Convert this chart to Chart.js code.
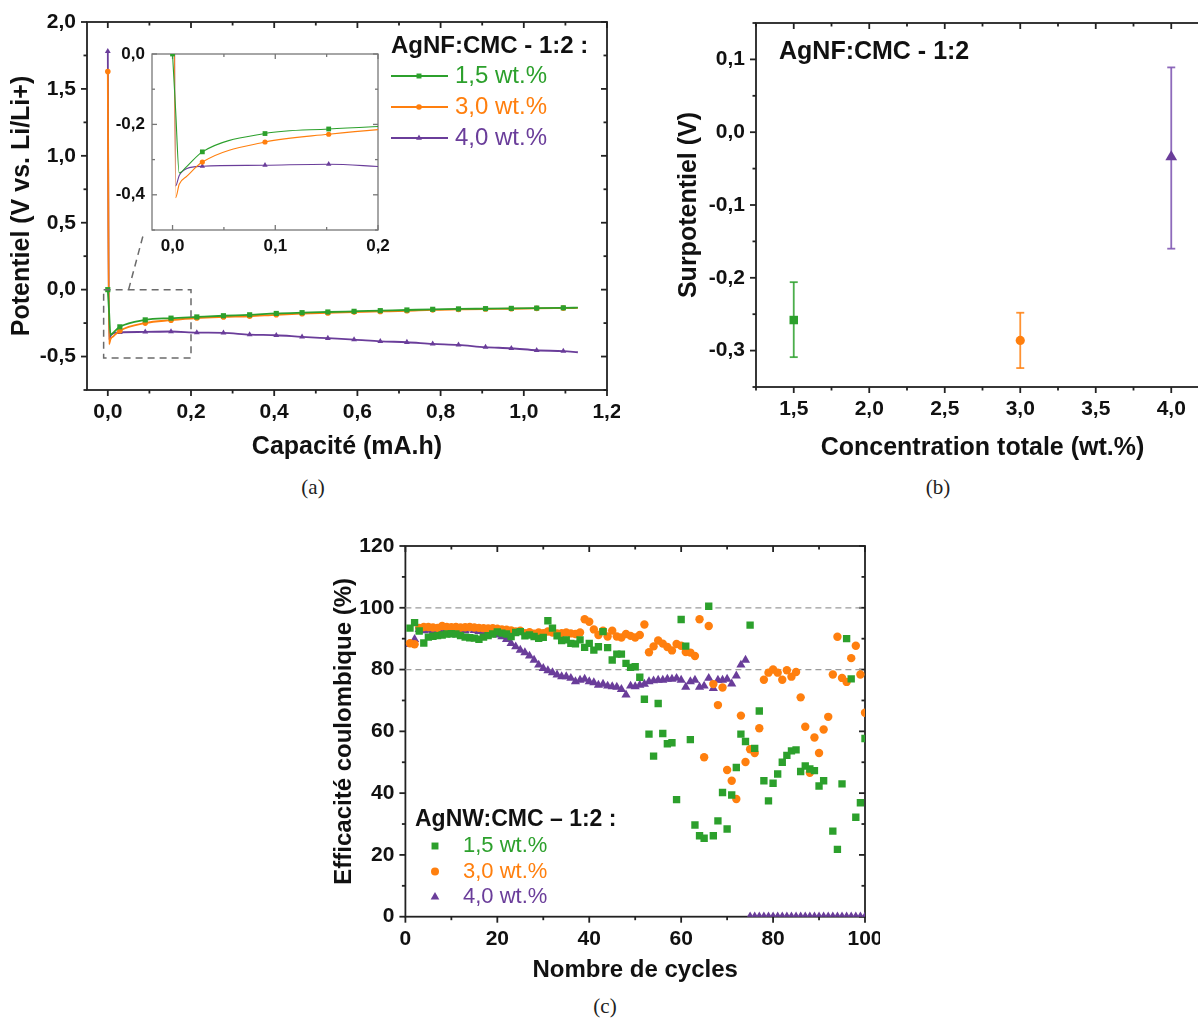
<!DOCTYPE html>
<html>
<head>
<meta charset="utf-8">
<title>AgNF:CMC - potentiel, surpotentiel, efficacité coulombique</title>
<script src="https://cdn.jsdelivr.net/npm/chart.js"></script>
<style>
  body { margin: 0; width: 1198px; height: 1019px; overflow: hidden; background: #fff; position: relative; }
  canvas { position: absolute; }
  .cap { position: absolute; font: 21px "Liberation Serif", "DejaVu Serif", serif; color: #222; transform: translate(-50%, -50%); }
</style>
</head>
<body>
<canvas id="chartA" width="620" height="470" style="left:0;top:0"></canvas>
<canvas id="chartInset" width="300" height="220" style="left:100px;top:40px"></canvas>
<canvas id="chartB" width="560" height="470" style="left:670px;top:0"></canvas>
<canvas id="chartC" width="560" height="460" style="left:320px;top:530px"></canvas>
<div class="cap" style="left:313px;top:487px">(a)</div>
<div class="cap" style="left:938px;top:487px">(b)</div>
<div class="cap" style="left:605px;top:1006px">(c)</div>

<script>
// ---------- data ----------
// (a) potential vs capacity
const capX  = [0, 0.003, 0.0065, 0.014, 0.029, 0.09, 0.152, 0.214, 0.278, 0.341, 0.405, 0.467, 0.529, 0.592, 0.655, 0.719, 0.781, 0.843, 0.908, 0.970, 1.031, 1.095, 1.13];
const pot15 = [0.0, -0.16, -0.338, -0.319, -0.278, -0.226, -0.213, -0.204, -0.195, -0.188, -0.178, -0.172, -0.167, -0.162, -0.157, -0.152, -0.147, -0.144, -0.142, -0.140, -0.138, -0.136, -0.135];
const pot30 = [1.63, -0.408, -0.37, -0.347, -0.307, -0.25, -0.228, -0.212, -0.204, -0.199, -0.188, -0.180, -0.174, -0.168, -0.163, -0.158, -0.151, -0.148, -0.145, -0.143, -0.140, -0.138, -0.137];
const pot40 = [1.78, -0.375, -0.345, -0.325, -0.319, -0.316, -0.313, -0.321, -0.323, -0.336, -0.341, -0.353, -0.363, -0.373, -0.386, -0.393, -0.405, -0.413, -0.430, -0.438, -0.453, -0.460, -0.468];

// (b) overpotential vs total concentration
const concX     = [1.5, 3.0, 4.0];
const overpot   = [-0.258, -0.286, -0.034];
const overErrLo = [-0.309, -0.324, -0.160];
const overErrHi = [-0.206, -0.248, 0.089];

// (c) coulombic efficiency vs cycle
const cycles = [1,2,3,4,5,6,7,8,9,10,11,12,13,14,15,16,17,18,19,20,21,22,23,24,25,26,27,28,29,30,31,32,33,34,35,36,37,38,39,40,41,42,43,44,45,46,47,48,49,50,
  51,52,53,54,55,56,57,58,59,60,61,62,63,64,65,66,67,68,69,70,71,72,73,74,75,76,77,78,79,80,81,82,83,84,85,86,87,88,89,90,91,92,93,94,95,96,97,98,99,100];
const ce15 = [93.4,95.2,92.5,88.6,90.5,90.8,91,91.2,91.5,91.6,91.5,91,90.5,90.3,90.2,89.8,90.5,91,91.5,92.2,91.8,91.5,90.7,92,92.3,90.9,91.2,90.7,90.1,90.4,
  95.8,93.4,90.9,89.4,89.6,88.5,88.3,89.6,87.2,88.5,86.3,87.4,92.3,87.1,83.1,85,85,82,80.7,80.9,
  77.5,70.4,59.1,52,69,59.3,56,56.3,37.9,96.2,87.6,57.3,29.7,26.2,25.4,100.5,26.2,31,40.2,28.4,
  39.4,48.3,59.1,56.7,94.4,54.5,66.6,44,37.5,43.2,46.2,50,52.2,53.7,54,47,48.8,47.8,47.3,42.3,
  44,null,27.7,21.8,43,90,77,32.2,36.9,57.7];
const ce30 = [88.5,88.2,93.5,93.8,93.8,93.6,93.5,94.1,93.8,93.7,93.8,93.6,93.7,93.8,93.6,93.5,93.4,93.3,93.4,93.2,93,92.9,92.7,92.3,92.6,91.8,92.1,91.6,92,91.8,
  92.3,92,91.7,91.8,92,91.7,91.5,92,96.3,95.5,93,91.2,92.6,90.7,92.6,90.7,90.4,91.5,90.9,90.4,
  91.2,94.6,85.6,87.5,89.4,88.4,87.3,86.2,88.3,87.7,85.7,85.5,84.4,96.3,51.6,94.1,75.3,68.5,74.2,47.5,
  44,38.1,65.1,50.1,54.2,53,61,76.7,79,80,79,76.7,79.8,77.7,79.2,71,61.5,46.6,58,53,
  60.6,64.7,78.4,90.6,77.3,76,83.7,87.7,78.4,66];
const ce40 = [88.2,89.8,93,92.6,92.8,92.5,92.7,92.6,92.8,92.7,92.5,92.8,92.6,93.2,92.7,92.4,92.3,92,91.6,91.2,90.7,89.8,88.5,87.4,86.3,85.5,84.4,83.1,81.5,80.4,
  79.7,79,78.3,77.7,77.7,77.2,76.1,76.6,76.9,76.1,75.8,75,75.3,74.7,74.5,74.3,73.6,71.8,74.7,74.5,
  75,75.3,76.1,76.4,76.6,76.6,76.9,76.9,77.2,76.6,74.3,76.1,76.6,74.3,74.7,77.2,73.9,76.6,76.6,76.9,
  75.4,78,81.5,83.1,0,0,0,0,0,0,0,0,0,0,0,0,0,0,0,0,
  0,0,0,0,0,0,0,0,0,0];
const ceRefLines = [80, 100];

const seriesLabels = ['1,5 wt.%', '3,0 wt.%', '4,0 wt.%'];
const GREEN = '#2ca02c', ORANGE = '#ff7f0e', PURPLE = '#6a3d9a';

// ---------- helpers ----------
Chart.defaults.font.family = '"Liberation Sans", Arial, sans-serif';
Chart.defaults.color = '#111';

const comma = v => (Math.abs(v) < 1e-9 ? 0 : v).toFixed(1).replace('.', ',');

function makeAxis(o) {
  return {
    type: 'linear', min: o.min, max: o.max,
    grid: { display: false, drawTicks: false },
    border: { display: false },
    ticks: { stepSize: o.step, includeBounds: false, autoSkip: false, maxRotation: 0, padding: o.pad,
             color: '#111', font: { size: o.fontSize, weight: 'bold' }, callback: o.fmt },
    title: { display: !!o.title, text: o.title, color: '#111', font: { size: o.titleSize, weight: 'bold' }, padding: o.titlePad },
    // keep major ticks on round multiples of the step, not on the axis bounds
    afterBuildTicks(s) {
      const t = [];
      for (let i = Math.ceil(s.min / o.step - 1e-9); i * o.step <= s.max + 1e-9; i++) t.push({ value: +(i * o.step).toFixed(10) });
      s.ticks = t;
    },
    afterFit(s) {
      if (o.horizontal) s.height = o.size; else s.width = o.size;
      s.paddingLeft = s.paddingRight = s.paddingTop = s.paddingBottom = 0;
    }
  };
}

function drawMarker(ctx, style, x, y, r, color) {
  ctx.fillStyle = color;
  ctx.beginPath();
  if (style === 'rect') { const s = r * Math.SQRT1_2; ctx.rect(x - s, y - s, 2 * s, 2 * s); }
  else if (style === 'triangle') { ctx.moveTo(x, y - r); ctx.lineTo(x + r * 0.866, y + r / 2); ctx.lineTo(x - r * 0.866, y + r / 2); ctx.closePath(); }
  else ctx.arc(x, y, r, 0, Math.PI * 2);
  ctx.fill();
}

// box with origin-style ticks: left/bottom outward (or inward), top/right inward
const framePlugin = {
  id: 'frame',
  beforeDatasetsDraw(chart, args, o) {
    const { ctx, chartArea: a } = chart;
    const xs = chart.scales.x, ys = chart.scales.y;
    ctx.save();
    if (o.fill) { ctx.fillStyle = o.fill; ctx.fillRect(a.left, a.top, a.right - a.left, a.bottom - a.top); }
    ctx.strokeStyle = o.color; ctx.lineWidth = o.lineWidth;
    ctx.strokeRect(a.left, a.top, a.right - a.left, a.bottom - a.top);
    const seg = (x1, y1, x2, y2) => { ctx.beginPath(); ctx.moveTo(x1, y1); ctx.lineTo(x2, y2); ctx.stroke(); };
    const out = o.outward ? 1 : -1;
    const values = (s, step) => {
      const res = [], start = Math.ceil(s.min / step - 1e-9);
      for (let i = start; i * step <= s.max + 1e-9; i++) res.push(i * step);
      return res;
    };
    const isMajor = (s, v) => s.ticks.some(t => Math.abs(t.value - v) < 1e-6);
    for (const v of values(xs, o.xMinor)) {
      const p = xs.getPixelForValue(v), len = isMajor(xs, v) ? o.major : o.minor;
      seg(p, a.bottom, p, a.bottom + out * len);
      seg(p, a.top, p, a.top + len);
    }
    for (const v of values(ys, o.yMinor)) {
      const p = ys.getPixelForValue(v), len = isMajor(ys, v) ? o.major : o.minor;
      seg(a.left, p, a.left - out * len, p);
      seg(a.right, p, a.right - len, p);
    }
    // dashed reference levels
    if (o.refLines) {
      ctx.strokeStyle = '#9a9a9a'; ctx.lineWidth = 1.2; ctx.setLineDash([6, 4]);
      for (const v of o.refLines) { const p = ys.getPixelForValue(v); seg(a.left, p, a.right, p); }
      ctx.setLineDash([]);
    }
    // error bars
    if (o.err) {
      o.err.lo.forEach((lo, i) => {
        const px = xs.getPixelForValue(o.err.x[i]);
        const y1 = ys.getPixelForValue(lo), y2 = ys.getPixelForValue(o.err.hi[i]);
        ctx.strokeStyle = o.err.colors[i]; ctx.lineWidth = 1.8;
        seg(px, y1, px, y2); seg(px - 4, y1, px + 4, y1); seg(px - 4, y2, px + 4, y2);
      });
    }
    ctx.restore();
  }
};

// dashed zoom rectangle + connector, in data coordinates
const zoomBoxPlugin = {
  id: 'zoomBox',
  afterDatasetsDraw(chart, args, o) {
    if (!o.box) return;
    const { ctx } = chart, xs = chart.scales.x, ys = chart.scales.y;
    ctx.save();
    ctx.strokeStyle = '#6b6b6b'; ctx.lineWidth = 1.5; ctx.setLineDash([7, 5]);
    const [x0, x1, y0, y1] = o.box;
    const l = xs.getPixelForValue(x0), r = xs.getPixelForValue(x1);
    const t = ys.getPixelForValue(y1), b = ys.getPixelForValue(y0);
    ctx.strokeRect(l, t, r - l, b - t);
    const [lx0, ly0, lx1, ly1] = o.link;
    ctx.beginPath();
    ctx.moveTo(xs.getPixelForValue(lx0), ys.getPixelForValue(ly0));
    ctx.lineTo(xs.getPixelForValue(lx1), ys.getPixelForValue(ly1));
    ctx.stroke();
    ctx.restore();
  }
};

// title text + optional series key
const keyPlugin = {
  id: 'key',
  afterDraw(chart, args, o) {
    if (!o.title) return;
    const ctx = chart.ctx;
    ctx.save();
    ctx.textBaseline = 'middle'; ctx.textAlign = 'left';
    ctx.fillStyle = '#111'; ctx.font = o.titleFont;
    ctx.fillText(o.title, o.x, o.y);
    if (o.entries) {
      chart.data.datasets.forEach((ds, i) => {
        const yy = o.y + o.firstGap + i * o.rowH;
        if (o.lineLen) {
          ctx.strokeStyle = ds.borderColor; ctx.lineWidth = 1.8;
          ctx.beginPath(); ctx.moveTo(o.x, yy); ctx.lineTo(o.x + o.lineLen, yy); ctx.stroke();
        }
        drawMarker(ctx, ds.pointStyle, o.markX, yy, o.markR[i], ds.borderColor);
        ctx.fillStyle = ds.borderColor; ctx.font = o.font;
        ctx.fillText(ds.label, o.textX, yy);
      });
    }
    ctx.restore();
  }
};

const basePlugins = { legend: { display: false }, tooltip: { enabled: false } };

// ---------- (a) ----------
function curve(vals) { return capX.map((x, i) => ({ x, y: vals[i] })); }
const markAt = r => c => (c.dataIndex === 0 || (c.dataIndex >= 4 && c.dataIndex < capX.length - 1)) ? r : 0;

function potDatasets(width, r) {
  return [
    { label: seriesLabels[0], data: curve(pot15), borderColor: GREEN, backgroundColor: GREEN, pointStyle: 'rect', pointRadius: markAt(r * 1.3), borderWidth: width },
    { label: seriesLabels[1], data: curve(pot30), borderColor: ORANGE, backgroundColor: ORANGE, pointStyle: 'circle', pointRadius: markAt(r), borderWidth: width },
    { label: seriesLabels[2], data: curve(pot40), borderColor: PURPLE, backgroundColor: PURPLE, pointStyle: 'triangle', pointRadius: markAt(r * 1.2), borderWidth: width }
  ].map(d => Object.assign(d, { showLine: true, cubicInterpolationMode: 'monotone', pointBorderWidth: 0, pointHoverRadius: 0 }));
}

new Chart(document.getElementById('chartA'), {
  type: 'scatter',
  data: { datasets: potDatasets(1.8, 2.8) },
  options: {
    responsive: false, animation: false, events: [],
    layout: { padding: { top: 22, right: 13, left: 0, bottom: 0 } },
    scales: {
      x: makeAxis({ horizontal: true, min: -0.05, max: 1.2, step: 0.2, fmt: comma, pad: 10, fontSize: 21, title: 'Capacité (mA.h)', titleSize: 25, titlePad: 8, size: 80 }),
      y: makeAxis({ min: -0.75, max: 2.0, step: 0.5, fmt: comma, pad: 11, fontSize: 21, title: 'Potentiel (V vs. Li/Li+)', titleSize: 25, titlePad: 7, size: 87 })
    },
    plugins: Object.assign({}, basePlugins, {
      frame: { color: '#222', lineWidth: 1.8, outward: true, major: 6, minor: 3.5, xMinor: 0.1, yMinor: 0.25 },
      zoomBox: { box: [-0.01, 0.2, -0.51, 0.0], link: [0.05, 0.0, 0.087, 0.43] },
      key: { title: 'AgNF:CMC - 1:2 :', titleFont: 'bold 24px "Liberation Sans", Arial, sans-serif', font: '24px "Liberation Sans", Arial, sans-serif',
             x: 391, y: 46, entries: true, firstGap: 30, rowH: 31, lineLen: 57, markX: 419, markR: [3.5, 2.8, 3.4], textX: 455 }
    })
  },
  plugins: [framePlugin, zoomBoxPlugin, keyPlugin]
});

// ---------- (a) inset ----------
new Chart(document.getElementById('chartInset'), {
  type: 'scatter',
  data: { datasets: potDatasets(1.1, 2.6) },
  options: {
    responsive: false, animation: false, events: [],
    layout: { padding: { top: 14, right: 22, left: 0, bottom: 0 } },
    scales: {
      x: makeAxis({ horizontal: true, min: -0.02, max: 0.2, step: 0.1, fmt: comma, pad: 6.5, fontSize: 17, size: 30 }),
      y: makeAxis({ min: -0.5, max: 0.0, step: 0.2, fmt: comma, pad: 7, fontSize: 17, size: 52 })
    },
    plugins: Object.assign({}, basePlugins, {
      frame: { fill: '#fff', color: '#777', lineWidth: 1.3, outward: false, major: 5, minor: 3, xMinor: 0.05, yMinor: 0.1 }
    })
  },
  plugins: [framePlugin]
});

// ---------- (b) ----------
const pointStylesB = ['rect', 'circle', 'triangle'];
const colorsB = [GREEN, ORANGE, PURPLE];
const radiusB = [6, 4.6, 6.8];
new Chart(document.getElementById('chartB'), {
  type: 'scatter',
  data: {
    datasets: concX.map((c, i) => ({
      label: seriesLabels[i], data: [{ x: c, y: overpot[i] }],
      pointStyle: pointStylesB[i], pointRadius: radiusB[i], pointBorderWidth: 0,
      backgroundColor: colorsB[i], borderColor: colorsB[i]
    }))
  },
  options: {
    responsive: false, animation: false, events: [],
    layout: { padding: { top: 23, right: 21, left: 0, bottom: 0 } },
    scales: {
      x: makeAxis({ horizontal: true, min: 1.25, max: 4.25, step: 0.5, fmt: comma, pad: 10, fontSize: 21, title: 'Concentration totale (wt.%)', titleSize: 25, titlePad: 7, size: 83 }),
      y: makeAxis({ min: -0.35, max: 0.15, step: 0.1, fmt: comma, pad: 11, fontSize: 21, title: 'Surpotentiel (V)', titleSize: 25, titlePad: 4.5, size: 86 })
    },
    plugins: Object.assign({}, basePlugins, {
      frame: { color: '#222', lineWidth: 1.8, outward: true, major: 6, minor: 3.5, xMinor: 0.25, yMinor: 0.05,
               err: { x: concX, lo: overErrLo, hi: overErrHi, colors: ['rgba(44,160,44,0.85)', 'rgba(255,127,14,0.85)', 'rgba(130,90,180,0.9)'] } },
      key: { title: 'AgNF:CMC - 1:2', titleFont: 'bold 25px "Liberation Sans", Arial, sans-serif', x: 109, y: 52 }
    })
  },
  plugins: [framePlugin, keyPlugin]
});

// ---------- (c) ----------
function cePoints(vals) { return cycles.map((c, i) => ({ x: c, y: vals[i] })); }
new Chart(document.getElementById('chartC'), {
  type: 'scatter',
  data: {
    datasets: [
      { label: seriesLabels[0], data: cePoints(ce15), pointStyle: 'rect', pointRadius: 5.2, backgroundColor: GREEN, borderColor: GREEN },
      { label: seriesLabels[1], data: cePoints(ce30), pointStyle: 'circle', pointRadius: 4.2, backgroundColor: ORANGE, borderColor: ORANGE },
      { label: seriesLabels[2], data: cePoints(ce40), pointStyle: 'triangle', pointRadius: 5.3, backgroundColor: PURPLE, borderColor: PURPLE }
    ].map(d => Object.assign(d, { pointBorderWidth: 0, clip: 0 }))
  },
  options: {
    responsive: false, animation: false, events: [],
    layout: { padding: { top: 16, right: 15, left: 0, bottom: 0 } },
    scales: {
      x: makeAxis({ horizontal: true, min: 0, max: 100, step: 20, fmt: v => v, pad: 10, fontSize: 21, title: 'Nombre de cycles', titleSize: 24, titlePad: 5.6, size: 73.3 }),
      y: makeAxis({ min: 0, max: 120, step: 20, fmt: v => v, pad: 11, fontSize: 21, title: 'Efficacité coulombique (%)', titleSize: 24, titlePad: 9.6, size: 85.4 })
    },
    plugins: Object.assign({}, basePlugins, {
      frame: { color: '#222', lineWidth: 1.8, outward: true, major: 6, minor: 3.5, xMinor: 10, yMinor: 10, refLines: ceRefLines },
      key: { title: 'AgNW:CMC \u2013 1:2 :', titleFont: 'bold 23px "Liberation Sans", Arial, sans-serif', font: '22px "Liberation Sans", Arial, sans-serif',
             x: 95, y: 290, entries: true, firstGap: 26, rowH: 25.5, markX: 115, markR: [4.9, 4.0, 5.0], textX: 143 }
    })
  },
  plugins: [framePlugin, keyPlugin]
});
</script>
</body>
</html>
